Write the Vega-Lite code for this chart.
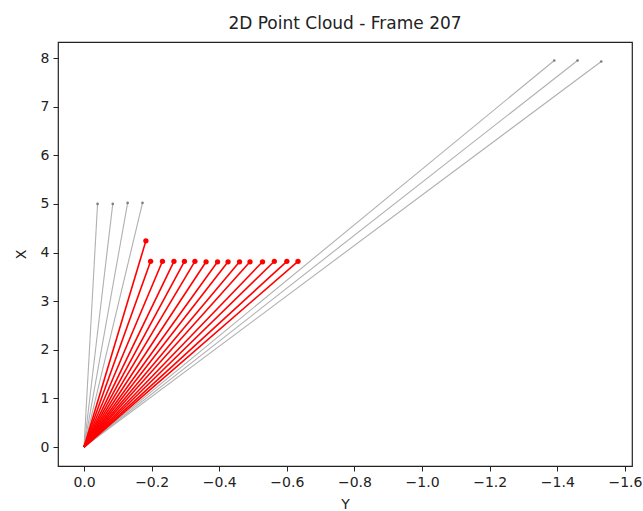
{
  "$schema": "https://vega.github.io/schema/vega-lite/v6.json",
  "width": 574,
  "height": 424,
  "autosize": {"type": "none"},
  "padding": {"left": 58, "top": 42, "right": 11, "bottom": 45},
  "background": "white",
  "title": {"text": "2D Point Cloud - Frame 207", "font": "DejaVu Sans", "fontSize": 17, "fontWeight": "normal", "color": "#222", "offset": 9},
  "config": {
    "view": {"stroke": "#222", "strokeWidth": 1.2},
    "axis": {"grid": false, "domain": false, "labelFont": "DejaVu Sans", "titleFont": "DejaVu Sans", "labelFontSize": 14, "titleFontSize": 14, "titleFontWeight": "normal", "labelColor": "#222", "titleColor": "#222", "tickColor": "#222", "tickSize": 5, "labelPadding": 4}
  },
  "data": {"values": [
    {"id": 1, "group": "gray", "y": -0.040, "x": 5.00},
    {"id": 2, "group": "gray", "y": -0.085, "x": 5.00},
    {"id": 3, "group": "gray", "y": -0.129, "x": 5.02},
    {"id": 4, "group": "gray", "y": -0.173, "x": 5.02},
    {"id": 5, "group": "gray", "y": -1.391, "x": 7.95},
    {"id": 6, "group": "gray", "y": -1.460, "x": 7.95},
    {"id": 7, "group": "gray", "y": -1.530, "x": 7.93},
    {"id": 8, "group": "red", "y": -0.183, "x": 4.24},
    {"id": 9, "group": "red", "y": -0.197, "x": 3.82},
    {"id": 10, "group": "red", "y": -0.232, "x": 3.82},
    {"id": 11, "group": "red", "y": -0.266, "x": 3.82},
    {"id": 12, "group": "red", "y": -0.297, "x": 3.82},
    {"id": 13, "group": "red", "y": -0.328, "x": 3.82},
    {"id": 14, "group": "red", "y": -0.361, "x": 3.81},
    {"id": 15, "group": "red", "y": -0.395, "x": 3.81},
    {"id": 16, "group": "red", "y": -0.426, "x": 3.81},
    {"id": 17, "group": "red", "y": -0.460, "x": 3.81},
    {"id": 18, "group": "red", "y": -0.491, "x": 3.81},
    {"id": 19, "group": "red", "y": -0.528, "x": 3.81},
    {"id": 20, "group": "red", "y": -0.563, "x": 3.82},
    {"id": 21, "group": "red", "y": -0.600, "x": 3.82},
    {"id": 22, "group": "red", "y": -0.633, "x": 3.82}
  ]},
  "encoding": {
    "x": {"field": "y", "type": "quantitative", "scale": {"domain": [0.077, -1.621], "nice": false, "zero": false}, "axis": {"title": "Y", "values": [0, -0.2, -0.4, -0.6, -0.8, -1.0, -1.2, -1.4, -1.6], "format": ".1f", "titlePadding": 8}},
    "y": {"field": "x", "type": "quantitative", "scale": {"domain": [-0.39, 8.33], "nice": false, "zero": false}, "axis": {"title": "X", "values": [0, 1, 2, 3, 4, 5, 6, 7, 8], "titlePadding": 12}}
  },
  "layer": [
    {
      "transform": [{"filter": "datum.group === 'gray'"}],
      "mark": {"type": "rule", "color": "#b0b0b0", "strokeWidth": 1.1},
      "encoding": {"x2": {"datum": 0}, "y2": {"datum": 0}}
    },
    {
      "transform": [{"filter": "datum.group === 'gray'"}],
      "mark": {"type": "circle", "color": "#808080", "size": 7, "opacity": 1}
    },
    {
      "transform": [{"filter": "datum.group === 'red'"}],
      "mark": {"type": "rule", "color": "#ff0000", "strokeWidth": 1.6},
      "encoding": {"x2": {"datum": 0}, "y2": {"datum": 0}}
    },
    {
      "transform": [{"filter": "datum.group === 'red'"}],
      "mark": {"type": "circle", "color": "#ff0000", "size": 28, "opacity": 1}
    }
  ]
}
